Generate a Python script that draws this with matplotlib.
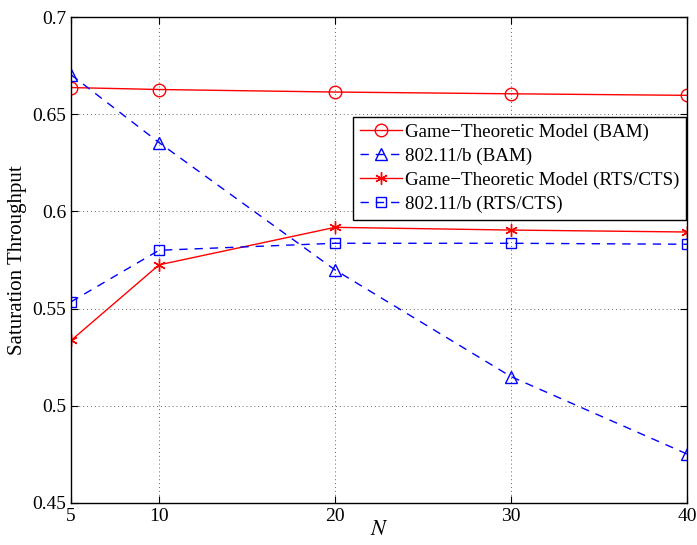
import matplotlib.pyplot as plt

plt.rcParams['font.family'] = ['Liberation Serif', 'DejaVu Serif']
plt.rcParams['mathtext.fontset'] = 'stix'

N = [5, 10, 20, 30, 40]
gt_bam = [0.6637, 0.6627, 0.6614, 0.6605, 0.6597]
dcf_bam = [0.6703, 0.6354, 0.5699, 0.5150, 0.4752]
gt_rts = [0.5336, 0.5725, 0.5918, 0.5904, 0.5894]
dcf_rts = [0.5535, 0.5800, 0.5836, 0.5836, 0.5831]

xticks = [5, 10, 20, 30, 40]
yticks = [0.45, 0.5, 0.55, 0.6, 0.65, 0.7]

fig = plt.figure(figsize=(6.97, 5.45), dpi=100)
ax = fig.add_axes([0.1019, 0.0771, 0.8838, 0.8917])

ax.plot(N, gt_bam, 'r-', marker='o', ms=9, mfc='none', mew=1.0, lw=1.0,
        label='Game\u2212Theoretic Model (BAM)')
ax.plot(N, dcf_bam, 'b--', marker='^', ms=9, mfc='none', mew=1.0, lw=1.0,
        dashes=(6, 5), label='802.11/b (BAM)')
ax.plot(N, gt_rts, 'r-', marker=(6, 2, 0), ms=9, mew=1.0, lw=1.0,
        label='Game\u2212Theoretic Model (RTS/CTS)')
ax.plot(N, dcf_rts, 'b--', marker='s', ms=7, mfc='none', mew=1.0, lw=1.0,
        dashes=(6, 5), label='802.11/b (RTS/CTS)')

ax.set_xlim(5, 40)
ax.set_ylim(0.45, 0.7)
ax.set_xticks(xticks)
ax.set_xticklabels([str(t) for t in xticks])
ax.set_yticks(yticks)
ax.set_yticklabels(['0.45', '0.5', '0.55', '0.6', '0.65', '0.7'])
ax.tick_params(direction='in', top=True, right=True, labelsize=14, length=5, width=0.8)
ax.grid(True, linestyle=(0, (1, 3)), color='#666666', linewidth=0.7)
for s in ax.spines.values():
    s.set_linewidth(1.0)

ax.set_xlabel('$N$', fontsize=16, labelpad=-3)
ax.set_ylabel('Saturation Throughput', fontsize=15, labelpad=4)

leg = ax.legend(loc='upper left', bbox_to_anchor=(0.4578, 0.7942), fontsize=13.7,
                frameon=True, fancybox=False, framealpha=1, edgecolor='black',
                handlelength=2.2, borderaxespad=0, borderpad=0.35,
                labelspacing=0.35, handletextpad=0.2)
leg.get_frame().set_linewidth(1.0)

fig.savefig('out.png', dpi=100)
